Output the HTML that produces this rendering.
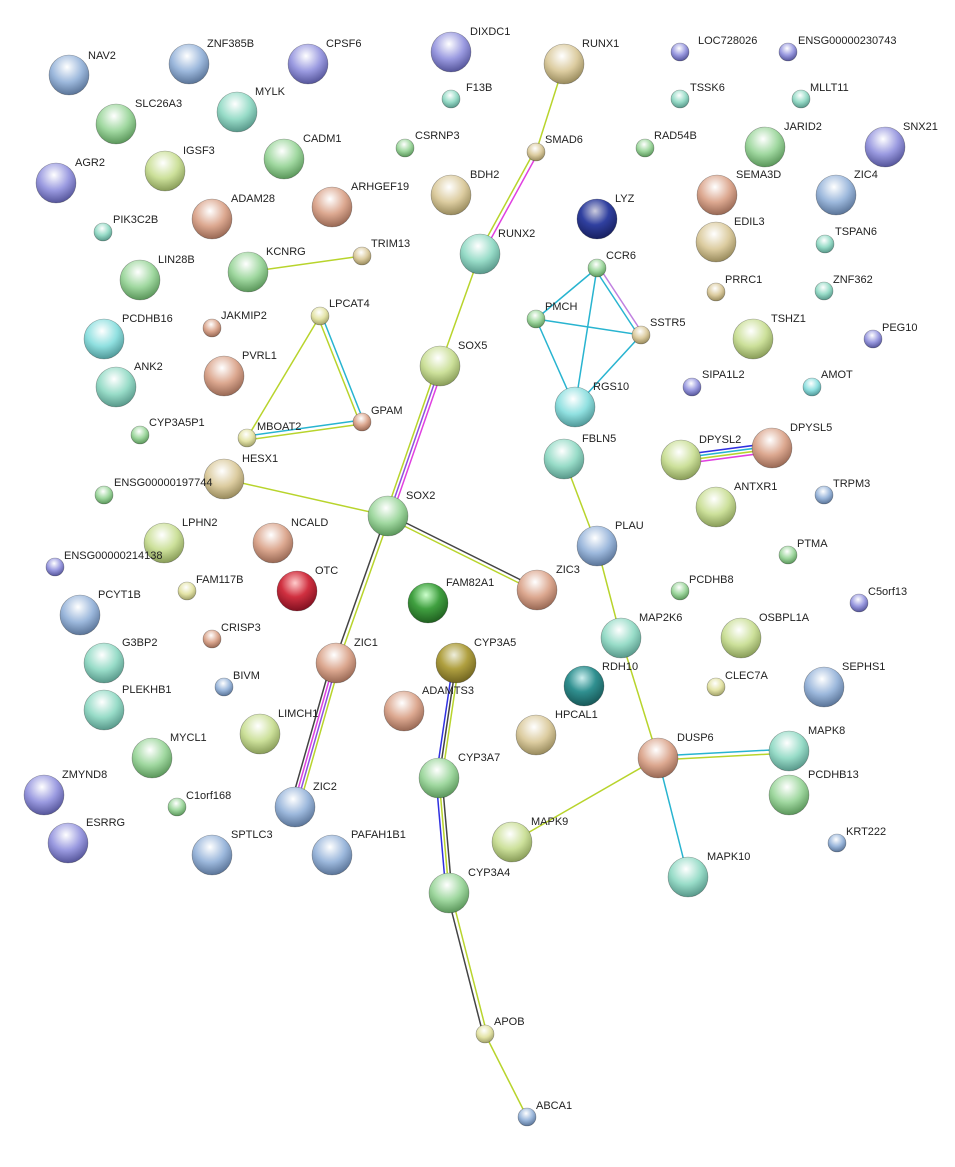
<!DOCTYPE html>
<html><head><meta charset="utf-8"><style>
html,body{margin:0;padding:0;background:#fff}
svg text{font-family:"Liberation Sans",sans-serif;font-size:11px;fill:#222}
</style></head><body>
<svg width="955" height="1162" viewBox="0 0 955 1162" xmlns="http://www.w3.org/2000/svg">
<defs>
<radialGradient id="pu" cx="45%" cy="30%" r="70%"><stop offset="0" stop-color="#fff"/><stop offset="0.55" stop-color="#9a9ae0"/><stop offset="1" stop-color="#55559a"/></radialGradient>
<radialGradient id="bl" cx="45%" cy="30%" r="70%"><stop offset="0" stop-color="#fff"/><stop offset="0.55" stop-color="#9cb8dc"/><stop offset="1" stop-color="#5a7498"/></radialGradient>
<radialGradient id="te" cx="45%" cy="30%" r="70%"><stop offset="0" stop-color="#fff"/><stop offset="0.55" stop-color="#98dcc8"/><stop offset="1" stop-color="#58988a"/></radialGradient>
<radialGradient id="gr" cx="45%" cy="30%" r="70%"><stop offset="0" stop-color="#fff"/><stop offset="0.55" stop-color="#a0d8a0"/><stop offset="1" stop-color="#5a965a"/></radialGradient>
<radialGradient id="yg" cx="45%" cy="30%" r="70%"><stop offset="0" stop-color="#fff"/><stop offset="0.55" stop-color="#cce09a"/><stop offset="1" stop-color="#889c58"/></radialGradient>
<radialGradient id="ta" cx="45%" cy="30%" r="70%"><stop offset="0" stop-color="#fff"/><stop offset="0.55" stop-color="#dccca0"/><stop offset="1" stop-color="#988a5c"/></radialGradient>
<radialGradient id="sa" cx="45%" cy="30%" r="70%"><stop offset="0" stop-color="#fff"/><stop offset="0.55" stop-color="#dca890"/><stop offset="1" stop-color="#986854"/></radialGradient>
<radialGradient id="re" cx="45%" cy="30%" r="70%"><stop offset="0" stop-color="#fcc"/><stop offset="0.5" stop-color="#d03040"/><stop offset="1" stop-color="#801020"/></radialGradient>
<radialGradient id="dg" cx="45%" cy="30%" r="70%"><stop offset="0" stop-color="#cfc"/><stop offset="0.5" stop-color="#40a040"/><stop offset="1" stop-color="#206020"/></radialGradient>
<radialGradient id="db" cx="45%" cy="30%" r="70%"><stop offset="0" stop-color="#ccd"/><stop offset="0.5" stop-color="#3040a0"/><stop offset="1" stop-color="#182060"/></radialGradient>
<radialGradient id="cy" cx="45%" cy="30%" r="70%"><stop offset="0" stop-color="#fff"/><stop offset="0.55" stop-color="#90e0e0"/><stop offset="1" stop-color="#509898"/></radialGradient>
<radialGradient id="ol" cx="45%" cy="30%" r="70%"><stop offset="0" stop-color="#eed"/><stop offset="0.5" stop-color="#b0a040"/><stop offset="1" stop-color="#706420"/></radialGradient>
<radialGradient id="dt" cx="45%" cy="30%" r="70%"><stop offset="0" stop-color="#cee"/><stop offset="0.5" stop-color="#309090"/><stop offset="1" stop-color="#185858"/></radialGradient>
<radialGradient id="yl" cx="45%" cy="30%" r="70%"><stop offset="0" stop-color="#fff"/><stop offset="0.55" stop-color="#e4e4a8"/><stop offset="1" stop-color="#a0a068"/></radialGradient>
</defs>
<g fill="none" stroke-width="1.5">
<line x1="564" y1="64" x2="536" y2="152" stroke="#b8d42c"/>
<line x1="534" y1="152" x2="478" y2="254" stroke="#b8d42c"/><line x1="538" y1="153" x2="482" y2="255" stroke="#e040e0"/>
<line x1="480" y1="254" x2="440" y2="366" stroke="#b8d42c"/>
<line x1="437" y1="366" x2="385" y2="516" stroke="#b8d42c"/><line x1="440" y1="367" x2="388" y2="517" stroke="#9050e0"/><line x1="443" y1="368" x2="391" y2="518" stroke="#e040e0"/>
<line x1="362" y1="256" x2="248" y2="272" stroke="#b8d42c"/>
<line x1="320" y1="316" x2="247" y2="438" stroke="#b8d42c"/>
<line x1="318" y1="317" x2="360" y2="423" stroke="#b8d42c"/><line x1="322" y1="316" x2="364" y2="422" stroke="#28b4d0"/>
<line x1="247" y1="436" x2="362" y2="420" stroke="#28b4d0"/><line x1="247" y1="440" x2="362" y2="424" stroke="#b8d42c"/>
<g stroke="#28b4d0"><line x1="597" y1="268" x2="536" y2="319"/><line x1="597" y1="268" x2="575" y2="407"/><line x1="536" y1="319" x2="641" y2="335"/><line x1="536" y1="319" x2="575" y2="407"/><line x1="641" y1="335" x2="575" y2="407"/><line x1="595" y1="269" x2="639" y2="336"/></g>
<line x1="599" y1="267" x2="643" y2="334" stroke="#c080e0"/>
<line x1="681" y1="455" x2="772" y2="443" stroke="#3030e0"/><line x1="681" y1="458" x2="772" y2="446" stroke="#28b4d0"/><line x1="681" y1="461" x2="772" y2="449" stroke="#b8d42c"/><line x1="681" y1="464" x2="772" y2="452" stroke="#e040e0"/>
<line x1="564" y1="459" x2="597" y2="546" stroke="#b8d42c"/>
<line x1="597" y1="546" x2="621" y2="638" stroke="#b8d42c"/>
<line x1="621" y1="638" x2="658" y2="758" stroke="#b8d42c"/>
<line x1="658" y1="756" x2="789" y2="749" stroke="#28b4d0"/><line x1="658" y1="760" x2="789" y2="753" stroke="#b8d42c"/>
<line x1="658" y1="758" x2="512" y2="842" stroke="#b8d42c"/>
<line x1="658" y1="758" x2="688" y2="877" stroke="#28b4d0"/>
<line x1="224" y1="479" x2="388" y2="516" stroke="#b8d42c"/>
<line x1="388" y1="514" x2="537" y2="588" stroke="#444"/><line x1="388" y1="518" x2="537" y2="592" stroke="#b8d42c"/>
<line x1="386" y1="516" x2="334" y2="663" stroke="#444"/><line x1="390" y1="516" x2="338" y2="663" stroke="#b8d42c"/>
<line x1="331" y1="663" x2="290" y2="807" stroke="#444"/><line x1="334" y1="663" x2="293" y2="807" stroke="#e040e0"/><line x1="337" y1="663" x2="296" y2="807" stroke="#9050e0"/><line x1="340" y1="663" x2="299" y2="807" stroke="#b8d42c"/>
<line x1="453" y1="663" x2="436" y2="778" stroke="#3030e0"/><line x1="456" y1="663" x2="439" y2="778" stroke="#444"/><line x1="459" y1="663" x2="442" y2="778" stroke="#b8d42c"/>
<line x1="436" y1="778" x2="446" y2="893" stroke="#3030e0"/><line x1="439" y1="778" x2="449" y2="893" stroke="#b8d42c"/><line x1="442" y1="778" x2="452" y2="893" stroke="#444"/>
<line x1="447" y1="893" x2="483" y2="1034" stroke="#444"/><line x1="451" y1="893" x2="487" y2="1034" stroke="#b8d42c"/>
<line x1="485" y1="1034" x2="527" y2="1117" stroke="#b8d42c"/>
</g>
<g stroke-opacity="0.35" stroke="#000" stroke-width="0.6">
<circle cx="69" cy="75" r="20" fill="url(#bl)"/><circle cx="189" cy="64" r="20" fill="url(#bl)"/><circle cx="308" cy="64" r="20" fill="url(#pu)"/><circle cx="451" cy="52" r="20" fill="url(#pu)"/><circle cx="564" cy="64" r="20" fill="url(#ta)"/>
<circle cx="680" cy="52" r="9" fill="url(#pu)"/><circle cx="788" cy="52" r="9" fill="url(#pu)"/><circle cx="451" cy="99" r="9" fill="url(#te)"/><circle cx="680" cy="99" r="9" fill="url(#te)"/><circle cx="801" cy="99" r="9" fill="url(#te)"/>
<circle cx="237" cy="112" r="20" fill="url(#te)"/><circle cx="116" cy="124" r="20" fill="url(#gr)"/><circle cx="405" cy="148" r="9" fill="url(#gr)"/><circle cx="536" cy="152" r="9" fill="url(#ta)"/><circle cx="645" cy="148" r="9" fill="url(#gr)"/>
<circle cx="765" cy="147" r="20" fill="url(#gr)"/><circle cx="885" cy="147" r="20" fill="url(#pu)"/><circle cx="284" cy="159" r="20" fill="url(#gr)"/><circle cx="56" cy="183" r="20" fill="url(#pu)"/><circle cx="165" cy="171" r="20" fill="url(#yg)"/>
<circle cx="451" cy="195" r="20" fill="url(#ta)"/><circle cx="717" cy="195" r="20" fill="url(#sa)"/><circle cx="836" cy="195" r="20" fill="url(#bl)"/><circle cx="212" cy="219" r="20" fill="url(#sa)"/><circle cx="332" cy="207" r="20" fill="url(#sa)"/>
<circle cx="597" cy="219" r="20" fill="url(#db)"/><circle cx="716" cy="242" r="20" fill="url(#ta)"/><circle cx="103" cy="232" r="9" fill="url(#te)"/><circle cx="825" cy="244" r="9" fill="url(#te)"/><circle cx="248" cy="272" r="20" fill="url(#gr)"/>
<circle cx="362" cy="256" r="9" fill="url(#ta)"/><circle cx="480" cy="254" r="20" fill="url(#te)"/><circle cx="597" cy="268" r="9" fill="url(#gr)"/><circle cx="140" cy="280" r="20" fill="url(#gr)"/><circle cx="716" cy="292" r="9" fill="url(#ta)"/>
<circle cx="824" cy="291" r="9" fill="url(#te)"/><circle cx="320" cy="316" r="9" fill="url(#yl)"/><circle cx="536" cy="319" r="9" fill="url(#gr)"/><circle cx="641" cy="335" r="9" fill="url(#ta)"/><circle cx="212" cy="328" r="9" fill="url(#sa)"/>
<circle cx="104" cy="339" r="20" fill="url(#cy)"/><circle cx="753" cy="339" r="20" fill="url(#yg)"/><circle cx="873" cy="339" r="9" fill="url(#pu)"/><circle cx="440" cy="366" r="20" fill="url(#yg)"/><circle cx="224" cy="376" r="20" fill="url(#sa)"/>
<circle cx="116" cy="387" r="20" fill="url(#te)"/><circle cx="575" cy="407" r="20" fill="url(#cy)"/><circle cx="692" cy="387" r="9" fill="url(#pu)"/><circle cx="812" cy="387" r="9" fill="url(#cy)"/><circle cx="362" cy="422" r="9" fill="url(#sa)"/>
<circle cx="140" cy="435" r="9" fill="url(#gr)"/><circle cx="247" cy="438" r="9" fill="url(#yl)"/><circle cx="681" cy="460" r="20" fill="url(#yg)"/><circle cx="772" cy="448" r="20" fill="url(#sa)"/><circle cx="564" cy="459" r="20" fill="url(#te)"/>
<circle cx="224" cy="479" r="20" fill="url(#ta)"/><circle cx="104" cy="495" r="9" fill="url(#gr)"/><circle cx="824" cy="495" r="9" fill="url(#bl)"/><circle cx="716" cy="507" r="20" fill="url(#yg)"/><circle cx="388" cy="516" r="20" fill="url(#gr)"/>
<circle cx="164" cy="543" r="20" fill="url(#yg)"/><circle cx="273" cy="543" r="20" fill="url(#sa)"/><circle cx="597" cy="546" r="20" fill="url(#bl)"/><circle cx="788" cy="555" r="9" fill="url(#gr)"/><circle cx="55" cy="567" r="9" fill="url(#pu)"/>
<circle cx="297" cy="591" r="20" fill="url(#re)"/><circle cx="428" cy="603" r="20" fill="url(#dg)"/><circle cx="537" cy="590" r="20" fill="url(#sa)"/><circle cx="187" cy="591" r="9" fill="url(#yl)"/><circle cx="680" cy="591" r="9" fill="url(#gr)"/>
<circle cx="859" cy="603" r="9" fill="url(#pu)"/><circle cx="80" cy="615" r="20" fill="url(#bl)"/><circle cx="621" cy="638" r="20" fill="url(#te)"/><circle cx="741" cy="638" r="20" fill="url(#yg)"/><circle cx="212" cy="639" r="9" fill="url(#sa)"/>
<circle cx="104" cy="663" r="20" fill="url(#te)"/><circle cx="456" cy="663" r="20" fill="url(#ol)"/><circle cx="336" cy="663" r="20" fill="url(#sa)"/><circle cx="584" cy="686" r="20" fill="url(#dt)"/><circle cx="716" cy="687" r="9" fill="url(#yl)"/>
<circle cx="824" cy="687" r="20" fill="url(#bl)"/><circle cx="224" cy="687" r="9" fill="url(#bl)"/><circle cx="404" cy="711" r="20" fill="url(#sa)"/><circle cx="104" cy="710" r="20" fill="url(#te)"/><circle cx="260" cy="734" r="20" fill="url(#yg)"/>
<circle cx="536" cy="735" r="20" fill="url(#ta)"/><circle cx="152" cy="758" r="20" fill="url(#gr)"/><circle cx="658" cy="758" r="20" fill="url(#sa)"/><circle cx="789" cy="751" r="20" fill="url(#te)"/><circle cx="439" cy="778" r="20" fill="url(#gr)"/>
<circle cx="44" cy="795" r="20" fill="url(#pu)"/><circle cx="789" cy="795" r="20" fill="url(#gr)"/><circle cx="177" cy="807" r="9" fill="url(#gr)"/><circle cx="295" cy="807" r="20" fill="url(#bl)"/><circle cx="512" cy="842" r="20" fill="url(#yg)"/>
<circle cx="68" cy="843" r="20" fill="url(#pu)"/><circle cx="212" cy="855" r="20" fill="url(#bl)"/><circle cx="332" cy="855" r="20" fill="url(#bl)"/><circle cx="837" cy="843" r="9" fill="url(#bl)"/><circle cx="688" cy="877" r="20" fill="url(#te)"/>
<circle cx="449" cy="893" r="20" fill="url(#gr)"/><circle cx="485" cy="1034" r="9" fill="url(#yl)"/><circle cx="527" cy="1117" r="9" fill="url(#bl)"/>
</g>
<g>
<text x="88" y="59">NAV2</text><text x="207" y="47">ZNF385B</text><text x="326" y="47">CPSF6</text><text x="470" y="35">DIXDC1</text><text x="582" y="47">RUNX1</text>
<text x="698" y="44">LOC728026</text><text x="798" y="44">ENSG00000230743</text><text x="466" y="91">F13B</text><text x="690" y="91">TSSK6</text><text x="810" y="91">MLLT11</text>
<text x="255" y="95">MYLK</text><text x="135" y="107">SLC26A3</text><text x="415" y="139">CSRNP3</text><text x="545" y="143">SMAD6</text><text x="654" y="139">RAD54B</text>
<text x="784" y="130">JARID2</text><text x="903" y="130">SNX21</text><text x="303" y="142">CADM1</text><text x="75" y="166">AGR2</text><text x="183" y="154">IGSF3</text>
<text x="470" y="178">BDH2</text><text x="736" y="178">SEMA3D</text><text x="854" y="178">ZIC4</text><text x="231" y="202">ADAM28</text><text x="351" y="190">ARHGEF19</text>
<text x="615" y="202">LYZ</text><text x="734" y="225">EDIL3</text><text x="113" y="223">PIK3C2B</text><text x="835" y="235">TSPAN6</text><text x="266" y="255">KCNRG</text>
<text x="371" y="247">TRIM13</text><text x="498" y="237">RUNX2</text><text x="606" y="259">CCR6</text><text x="158" y="263">LIN28B</text><text x="725" y="283">PRRC1</text>
<text x="833" y="283">ZNF362</text><text x="329" y="307">LPCAT4</text><text x="545" y="310">PMCH</text><text x="650" y="326">SSTR5</text><text x="221" y="319">JAKMIP2</text>
<text x="122" y="322">PCDHB16</text><text x="771" y="322">TSHZ1</text><text x="882" y="331">PEG10</text><text x="458" y="349">SOX5</text><text x="242" y="359">PVRL1</text>
<text x="134" y="370">ANK2</text><text x="593" y="390">RGS10</text><text x="702" y="378">SIPA1L2</text><text x="821" y="378">AMOT</text><text x="371" y="414">GPAM</text>
<text x="149" y="426">CYP3A5P1</text><text x="257" y="430">MBOAT2</text><text x="699" y="443">DPYSL2</text><text x="790" y="431">DPYSL5</text><text x="582" y="442">FBLN5</text>
<text x="242" y="462">HESX1</text><text x="114" y="486">ENSG00000197744</text><text x="833" y="487">TRPM3</text><text x="734" y="490">ANTXR1</text><text x="406" y="499">SOX2</text>
<text x="182" y="526">LPHN2</text><text x="291" y="526">NCALD</text><text x="615" y="529">PLAU</text><text x="797" y="547">PTMA</text><text x="64" y="559">ENSG00000214138</text>
<text x="315" y="574">OTC</text><text x="446" y="586">FAM82A1</text><text x="556" y="573">ZIC3</text><text x="196" y="583">FAM117B</text><text x="689" y="583">PCDHB8</text>
<text x="868" y="595">C5orf13</text><text x="98" y="598">PCYT1B</text><text x="639" y="621">MAP2K6</text><text x="759" y="621">OSBPL1A</text><text x="221" y="631">CRISP3</text>
<text x="122" y="646">G3BP2</text><text x="474" y="646">CYP3A5</text><text x="354" y="646">ZIC1</text><text x="602" y="670">RDH10</text><text x="725" y="679">CLEC7A</text>
<text x="842" y="670">SEPHS1</text><text x="233" y="679">BIVM</text><text x="422" y="694">ADAMTS3</text><text x="122" y="693">PLEKHB1</text><text x="278" y="717">LIMCH1</text>
<text x="555" y="718">HPCAL1</text><text x="170" y="741">MYCL1</text><text x="677" y="741">DUSP6</text><text x="808" y="734">MAPK8</text><text x="458" y="761">CYP3A7</text>
<text x="62" y="778">ZMYND8</text><text x="808" y="778">PCDHB13</text><text x="186" y="799">C1orf168</text><text x="313" y="790">ZIC2</text><text x="531" y="825">MAPK9</text>
<text x="86" y="826">ESRRG</text><text x="231" y="838">SPTLC3</text><text x="351" y="838">PAFAH1B1</text><text x="846" y="835">KRT222</text><text x="707" y="860">MAPK10</text>
<text x="468" y="876">CYP3A4</text><text x="494" y="1025">APOB</text><text x="536" y="1109">ABCA1</text>
</g>
</svg>
</body></html>
